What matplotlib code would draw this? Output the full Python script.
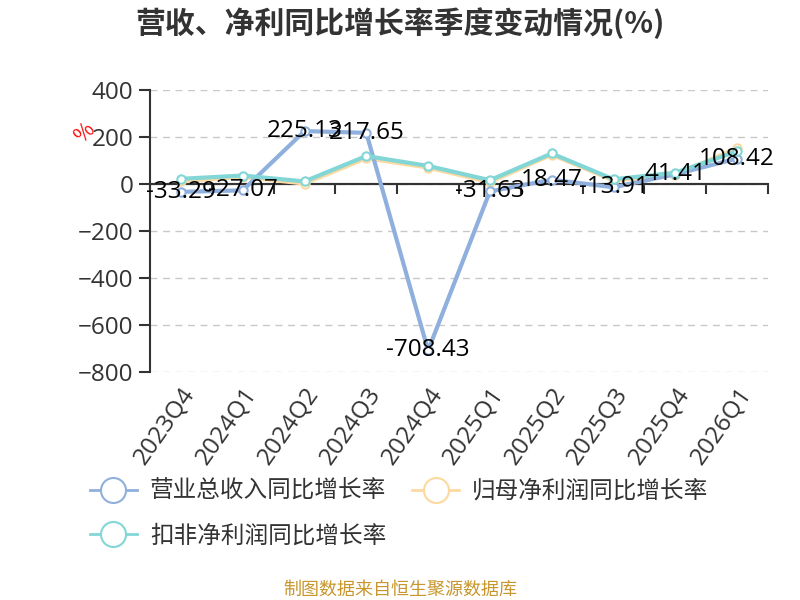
import matplotlib
matplotlib.use("Agg")
import matplotlib.pyplot as plt
import numpy as np

plt.rcParams['font.family'] = ['Noto Sans CJK SC', 'DejaVu Sans']
NUM_FONT = ['Open Sans', 'Noto Sans CJK SC']

# --- data ---
quarters = ['2023Q4', '2024Q1', '2024Q2', '2024Q3', '2024Q4',
            '2025Q1', '2025Q2', '2025Q3', '2025Q4', '2026Q1']
revenue_yoy = [-33.29, -27.07, 225.13, 217.65, -708.43, -31.63, 18.47, -13.91, 41.41, 108.42]
netprofit_yoy = [12, 30, 2, 110, 70, 8, 125, 15, 40, 152]
deducted_yoy = [22, 36, 11, 119, 77, 16, 130, 20, 48, 139]
series_names = ['营业总收入同比增长率', '归母净利润同比增长率', '扣非净利润同比增长率']
colors = ['#8fafdc', '#fdd9a0', '#82d6d6']

y_min, y_max = -800, 400

fig = plt.figure(figsize=(8, 6), dpi=100)
ax = fig.add_axes([0.1875, 0.38, 0.7725, 0.47])
x = np.arange(len(quarters))

handles = []
for vals, name, c, z in zip([revenue_yoy, netprofit_yoy, deducted_yoy], series_names, colors, [3, 2, 4]):
    h, = ax.plot(x, vals, color=c, lw=3, marker='o', ms=6, mfc='white', mec=c, mew=1.5,
                 label=name, zorder=z)
    handles.append(h)

# data labels on revenue series, centered on points
for xi, v in zip(x, revenue_yoy):
    ax.text(xi, v, f'{v:.2f}', ha='center', va='center', fontsize=17.5, color='black',
            family=NUM_FONT, zorder=6)

ax.set_xlim(-0.5, len(quarters) - 0.5)
ax.set_ylim(y_min, y_max)
ax.set_yticks(np.arange(y_min, y_max + 1, 200))
ax.yaxis.grid(True, ls=(0, (5, 4)), color='#c8c8c8', lw=1)
ax.set_axisbelow(True)
ax.tick_params(axis='y', labelsize=17.5, labelcolor='#333333', length=8, color='#333333', width=1.5, pad=4)
for lab in ax.get_yticklabels():
    lab.set_family(NUM_FONT)
ax.set_xticks(x)
ax.set_xticklabels(quarters, rotation=55, ha='right', rotation_mode='anchor', fontsize=17.5,
                   color='#333333', family=NUM_FONT)
ax.tick_params(axis='x', length=0, pad=8)
for s in ['top', 'right', 'bottom']:
    ax.spines[s].set_visible(False)
ax.spines['left'].set_color('#333333')
ax.spines['left'].set_linewidth(1.5)

# x axis line at zero with boundary ticks
ax.axhline(0, color='#333333', lw=1.5, zorder=1.5)
zero_frac = (0 - y_min) / (y_max - y_min)
sec = ax.secondary_xaxis(zero_frac)
sec.set_xticks(np.arange(-0.5, len(quarters), 1.0))
sec.set_xticklabels([])
sec.tick_params(length=7, width=1.5, color='#333333', direction='in')
for s in sec.spines.values():
    s.set_color('#333333')
    s.set_linewidth(1.5)

fig.text(0.106, 0.778, '%', color='red', fontsize=15, rotation=45, ha='center', va='center')

fig.text(0.5, 0.962, '营收、净利同比增长率季度变动情况(%)', ha='center', va='center',
         fontsize=21.5, fontweight='bold', color='#333333')

order = [0, 2, 1]
leg = fig.legend([handles[i] for i in order], [series_names[i] for i in order],
                 loc='upper left', bbox_to_anchor=(0.112, 0.2), ncol=2, frameon=False,
                 fontsize=17, handlelength=2.0, columnspacing=1.1, labelspacing=0.9,
                 handletextpad=0.55, markerscale=3.0, borderaxespad=0, borderpad=0)
for t in leg.get_texts():
    t.set_color('#333333')
for lh in leg.legend_handles:
    lh.set_linewidth(2)
    lh.set_markeredgewidth(1.5)

fig.text(0.5, 0.018, '制图数据来自恒生聚源数据库', ha='center', va='center', fontsize=13, color='#c8962d')

fig.savefig('out.png', dpi=100)
